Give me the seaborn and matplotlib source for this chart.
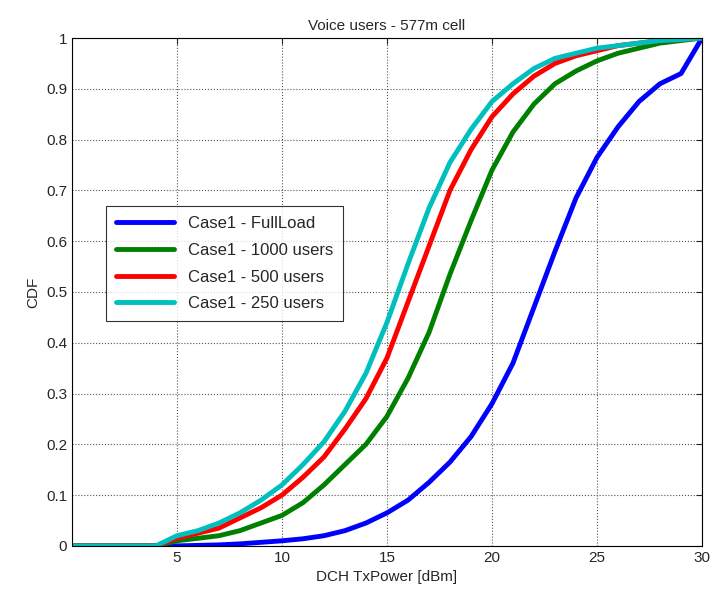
import numpy as np
import matplotlib
matplotlib.use("Agg")
import matplotlib.pyplot as plt
import seaborn as sns
import pandas as pd

x = list(range(0, 31))
full_load = [0, 0, 0, 0, 0, 0, 0.001, 0.002, 0.004, 0.007, 0.01, 0.014, 0.02, 0.03, 0.045, 0.065,
             0.09, 0.125, 0.165, 0.215, 0.28, 0.36, 0.47, 0.58, 0.685, 0.765, 0.825, 0.875, 0.91, 0.93, 1.0]
users_1000 = [0, 0, 0, 0, 0, 0.01, 0.015, 0.02, 0.03, 0.045, 0.06, 0.085, 0.12, 0.16, 0.2, 0.255,
              0.33, 0.42, 0.535, 0.64, 0.74, 0.815, 0.87, 0.91, 0.935, 0.955, 0.97, 0.98, 0.99, 0.995, 1.0]
users_500 = [0, 0, 0, 0, 0, 0.015, 0.025, 0.035, 0.055, 0.075, 0.1, 0.135, 0.175, 0.23, 0.29, 0.37,
             0.48, 0.59, 0.7, 0.78, 0.845, 0.89, 0.925, 0.95, 0.965, 0.975, 0.985, 0.99, 0.995, 0.997, 1.0]
users_250 = [0, 0, 0, 0, 0, 0.02, 0.03, 0.045, 0.065, 0.09, 0.12, 0.16, 0.205, 0.265, 0.34, 0.44,
             0.555, 0.665, 0.755, 0.82, 0.875, 0.91, 0.94, 0.96, 0.97, 0.98, 0.985, 0.99, 0.995, 0.997, 1.0]

labels = ["Case1 - FullLoad", "Case1 - 1000 users", "Case1 - 500 users", "Case1 - 250 users"]
colors = ["#0000ff", "#008000", "#ff0000", "#00bfbf"]

df = pd.DataFrame({"x": x * 4,
                   "cdf": full_load + users_1000 + users_500 + users_250,
                   "case": sum([[l] * len(x) for l in labels], [])})

sns.set_style("white")
plt.rcParams['font.family'] = ['Liberation Sans', 'DejaVu Sans']

fig, ax = plt.subplots(figsize=(7.12, 5.94), dpi=100)
fig.subplots_adjust(left=0.101, right=0.986, top=0.936, bottom=0.081)
sns.lineplot(data=df, x="x", y="cdf", hue="case", palette=colors, linewidth=3.5, ax=ax)

ax.set_xlim(0, 30)
ax.set_ylim(0, 1)
ax.set_xticks([5, 10, 15, 20, 25, 30])
ax.set_yticks(np.arange(0, 1.01, 0.1))
ax.set_yticklabels(["0", "0.1", "0.2", "0.3", "0.4", "0.5", "0.6", "0.7", "0.8", "0.9", "1"])
ax.grid(True, color="#555555", linestyle=":", linewidth=0.8)
ax.tick_params(direction="in", length=4, labelsize=11, top=True, right=True)
for s in ax.spines.values():
    s.set_color("black")
    s.set_linewidth(0.8)
ax.set_xlabel("DCH TxPower [dBm]", fontsize=11)
ax.set_ylabel("CDF", fontsize=11)
ax.set_title("Voice users - 577m cell", fontsize=11)
leg = ax.legend(loc="upper left", bbox_to_anchor=(0.041, 0.685), fontsize=12,
                frameon=True, fancybox=False, edgecolor="black", handlelength=3.5,
                borderpad=0.6, labelspacing=0.7)
leg.get_frame().set_linewidth(0.8)

plt.savefig("out.png", dpi=100)
